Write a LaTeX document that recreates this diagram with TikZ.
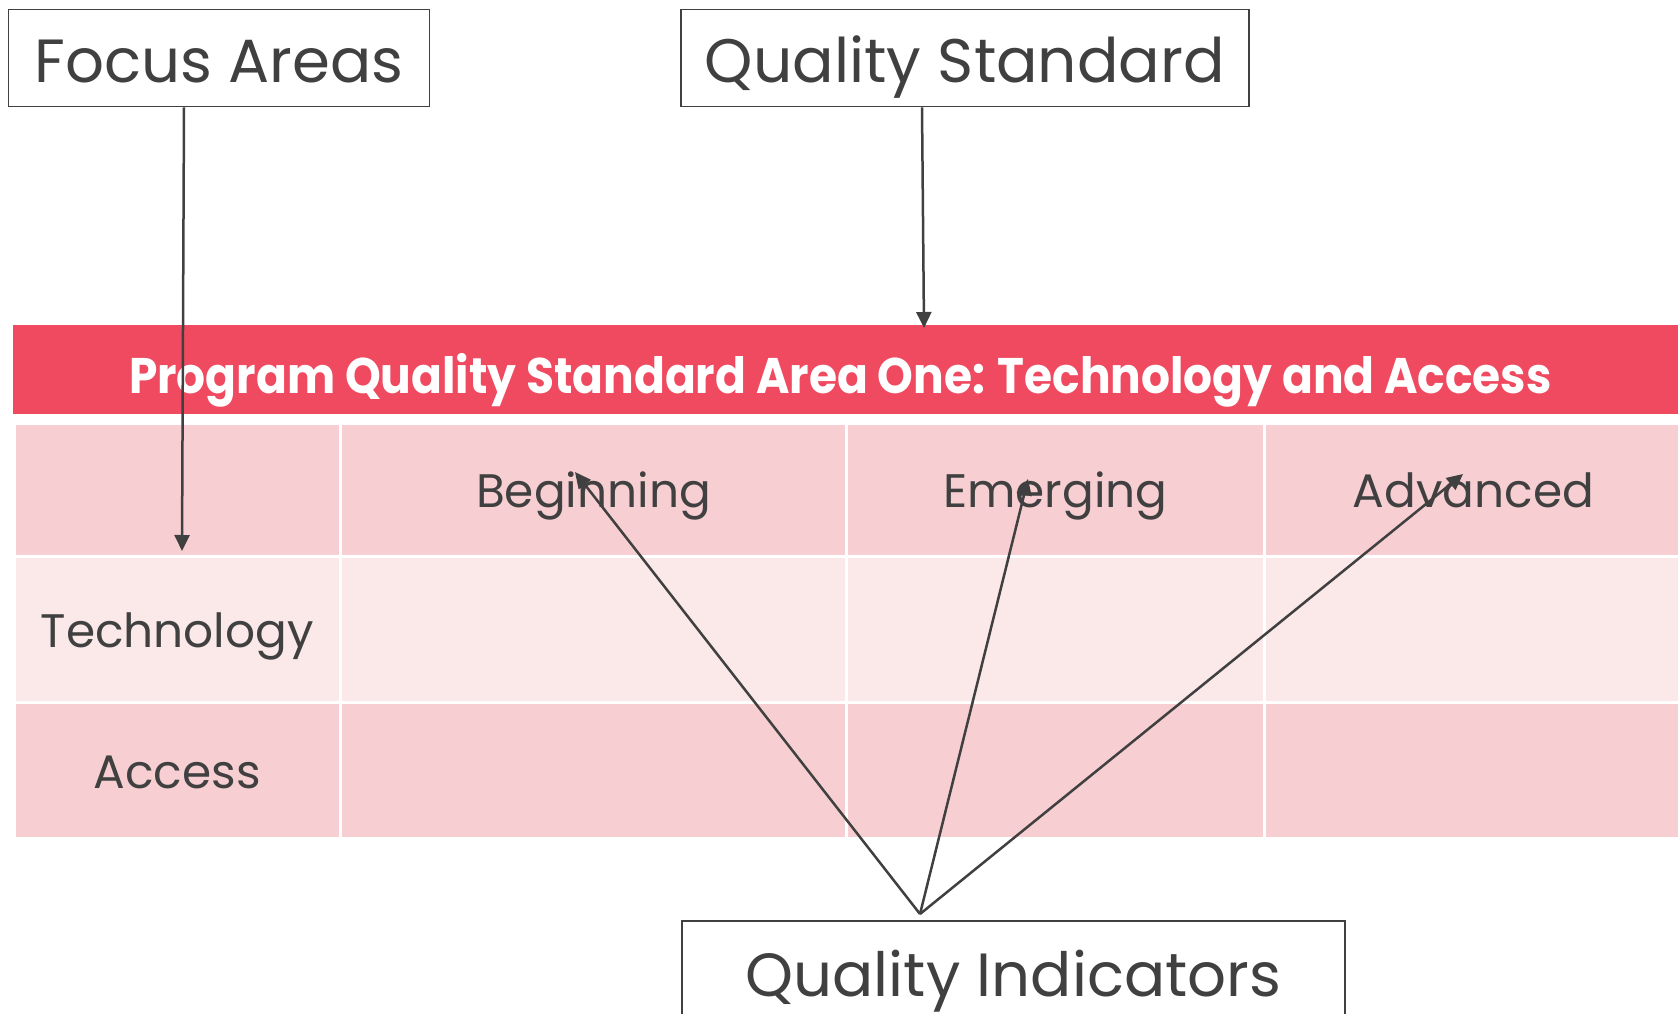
\documentclass[tikz,border=0pt]{standalone}
\usepackage{fontspec}
\setmainfont{Poppins}
\usetikzlibrary{arrows.meta}
\definecolor{hdrred}{RGB}{239,74,96}
\definecolor{rowA}{RGB}{247,207,210}
\definecolor{rowB}{RGB}{251,232,233}
\definecolor{ink}{RGB}{64,64,64}
\begin{document}
\begin{tikzpicture}[x=1pt,y=-1pt,
  labelbox/.style={draw=ink, line width=1.8pt, text=ink, inner sep=0pt, anchor=north west},
  conn/.style={draw=ink, line width=2.5pt, -{Triangle[length=16pt,width=15pt]}},
  cellbox/.style={draw=white, line width=3pt, inner sep=0pt, anchor=north west, text=ink,
     font=\fontsize{47}{54}\selectfont, text height=50pt, text depth=14pt},
]
\useasboundingbox (0,0) rectangle (1678,1014);
\clip (0,0) rectangle (1678,1014);

% label boxes
\node[labelbox, minimum width=421pt, minimum height=97pt, text height=60pt, text depth=10pt,
      font=\fontsize{61}{70}\selectfont] (focus) at (7.5,8.6) {Focus Areas};
\node[labelbox, minimum width=568pt, minimum height=97pt, text height=60pt, text depth=10pt,
      font=\fontsize{61.5}{70}\selectfont] (qstd) at (680,8.6) {Quality Standard};
\node[labelbox, minimum width=663pt, minimum height=112pt, text height=50pt, text depth=10pt,
      font=\fontsize{61}{70}\selectfont] (qind) at (681,920) {Quality Indicators};

% table header
\node[anchor=north west, fill=hdrred, minimum width=1665.5pt, minimum height=89pt, inner sep=0pt,
      text=white, text height=57pt, text depth=10pt, font=\fontsize{50}{58}\bfseries\selectfont] (hdr) at (12.5,325)
      {\hspace*{-10pt}\scalebox{0.91}[1]{Program Quality Standard Area One: Technology and Access}};

% row 0
\node[cellbox, fill=rowA, minimum width=326.5pt, minimum height=133.5pt] (c00) at (12.5,421.5) {};
\node[cellbox, fill=rowA, minimum width=506pt, minimum height=133.5pt] (c01) at (339,421.5) {Beginning};
\node[cellbox, fill=rowA, minimum width=418pt, minimum height=133.5pt] (c02) at (845,421.5) {Emerging};
\node[cellbox, fill=rowA, minimum width=418pt, minimum height=133.5pt] (c03) at (1263,421.5) {Advanced};
% row 1
\node[cellbox, fill=rowB, minimum width=326.5pt, minimum height=146pt] (c10) at (12.5,555) {Technology};
\node[cellbox, fill=rowB, minimum width=506pt, minimum height=146pt] (c11) at (339,555) {};
\node[cellbox, fill=rowB, minimum width=418pt, minimum height=146pt] (c12) at (845,555) {};
\node[cellbox, fill=rowB, minimum width=418pt, minimum height=146pt] (c13) at (1263,555) {};
% row 2
\node[cellbox, fill=rowA, minimum width=326.5pt, minimum height=135.5pt] (c20) at (12.5,701) {Access};
\node[cellbox, fill=rowA, minimum width=506pt, minimum height=135.5pt] (c21) at (339,701) {};
\node[cellbox, fill=rowA, minimum width=418pt, minimum height=135.5pt] (c22) at (845,701) {};
\node[cellbox, fill=rowA, minimum width=418pt, minimum height=135.5pt] (c23) at (1263,701) {};

% connector ends
\coordinate (faend) at (182,551);
\coordinate (qsend) at (924,328);
\coordinate (qistart) at (920,914);
\coordinate (tipB) at (575,472);
\coordinate (tipE) at (1028,479);
\coordinate (tipA) at (1463,474);

\draw[conn] (focus.south -| 184,0) -- (faend);
\draw[conn] (qstd.south -| 922,0) -- (qsend);
\draw[conn] (qistart) -- (tipB);
\draw[conn] (qistart) -- (tipE);
\draw[conn] (qistart) -- (tipA);
\end{tikzpicture}
\end{document}
